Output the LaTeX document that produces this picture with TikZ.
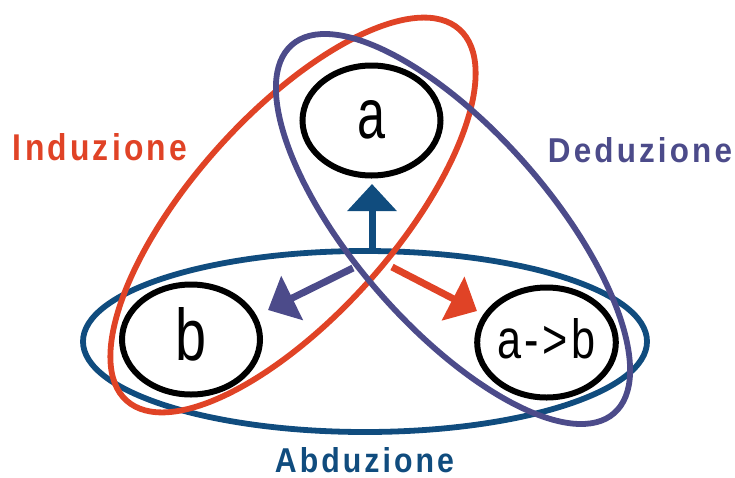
\documentclass[tikz,border=0pt]{standalone}
\usepackage{fontspec}
\setmainfont{Liberation Sans}
\newfontfamily\lblfont{Liberation Sans}[LetterSpace=10]
\newfontfamily\nodefont{Liberation Sans}[LetterSpace=8]
\usetikzlibrary{shapes.geometric,arrows.meta}
\definecolor{indred}{RGB}{224,67,38}
\definecolor{dedpurple}{RGB}{76,75,138}
\definecolor{abdblue}{RGB}{16,76,126}
\tikzset{
  loop/.style={line width=5.8pt},
  statebox/.style={draw=black, line width=6pt, ellipse, minimum width=138pt, minimum height=110pt, inner sep=0pt},
  flow/.style={line width=7pt, -{Triangle[length=27pt,width=48pt]}},
  lbl/.style={inner sep=0pt, font=\lblfont\bfseries}
}
\begin{document}
\begin{tikzpicture}[x=1pt,y=1pt]
\useasboundingbox (0,0) rectangle (735,-477);
% loops
\draw[loop, abdblue] (365,-341.5) ellipse [x radius=282, y radius=90.5];
\draw[loop, indred, rotate around={48.1:(293,-215)}] (293,-215) ellipse [x radius=249.3, y radius=100.7];
\draw[loop, dedpurple, rotate around={-48.8:(453,-229)}] (453,-229) ellipse [x radius=244.7, y radius=97.4];
% state nodes
\node[statebox] (a) at (371.5,-120.5) {\raisebox{1.5pt}[38pt][0pt]{\resizebox{28pt}{38pt}{a}}};
\node[statebox] (b) at (191,-339.5) {\raisebox{6pt}[53pt][0pt]{\resizebox{31pt}{53pt}{b}}};
\node[statebox] (ab) at (546.5,-342.5) {\raisebox{4.5pt}[40pt][0pt]{\resizebox{98pt}{40pt}{\nodefont a->b}}};
% arrow anchors
\coordinate (s1) at (372,-251);
\coordinate (t1) at (372,-184);
\coordinate (s2) at (353,-268);
\coordinate (t2) at (268,-310);
\coordinate (s3) at (392,-267);
\coordinate (t3) at (477,-311);
\draw[flow, abdblue] (s1) -- (t1);
\draw[flow, dedpurple] (s2) -- (t2);
\draw[flow, indred] (s3) -- (t3);
% labels
\node[lbl, text=indred] (ind) at (100,-147) {\resizebox{174pt}{27pt}{Induzione}};
\node[lbl, text=dedpurple] (ded) at (640,-150) {\resizebox{184pt}{25pt}{Deduzione}};
\node[lbl, text=abdblue] (abd) at (364.5,-460.5) {\resizebox{179pt}{25pt}{Abduzione}};
\end{tikzpicture}
\end{document}
